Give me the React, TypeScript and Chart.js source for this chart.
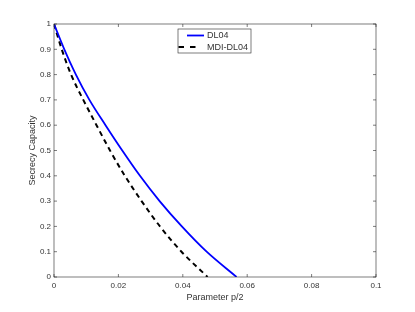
import React, { useEffect, useRef } from "react";
import { Chart, registerables } from "chart.js";

Chart.register(...registerables);

const dl04X = [0, 0.0032, 0.0068, 0.0110, 0.0160, 0.0212, 0.0267, 0.0328, 0.0397, 0.0474, 0.0567];
const dl04Y = [1, 0.9, 0.8, 0.7, 0.6, 0.5, 0.4, 0.3, 0.2, 0.1, 0];
const mdiX = [0, 0.0024, 0.0053, 0.0091, 0.0132, 0.0174, 0.0220, 0.0272, 0.0329, 0.0396, 0.0477];
const mdiY = [1, 0.9, 0.8, 0.7, 0.6, 0.5, 0.4, 0.3, 0.2, 0.1, 0];

const xTicks = [0, 0.02, 0.04, 0.06, 0.08, 0.1];
const xTickLabels = ["0", "0.02", "0.04", "0.06", "0.08", "0.1"];
const yTicks = [0, 0.1, 0.2, 0.3, 0.4, 0.5, 0.6, 0.7, 0.8, 0.9, 1];
const yTickLabels = ["0", "0.1", "0.2", "0.3", "0.4", "0.5", "0.6", "0.7", "0.8", "0.9", "1"];

const seriesLabels = ["DL04", "MDI-DL04"];
const xTitle = "Parameter p/2";
const yTitle = "Secrecy Capacity";

const TEXT = "#333333";
const FONT = "'Liberation Sans', Arial, Helvetica, sans-serif";

const boxPlugin = {
  id: "boxPlugin",
  afterDraw(chart: any) {
    const { ctx, chartArea } = chart;
    const { left, right, top, bottom } = chartArea;
    const xs = chart.scales.x;
    const ys = chart.scales.y;
    ctx.save();
    ctx.strokeStyle = "#262626";
    ctx.lineWidth = 0.6;
    ctx.strokeRect(left, top, right - left, bottom - top);
    const tl = 3;
    ctx.beginPath();
    xTicks.forEach((v) => {
      const px = xs.getPixelForValue(v);
      ctx.moveTo(px, bottom);
      ctx.lineTo(px, bottom - tl);
      ctx.moveTo(px, top);
      ctx.lineTo(px, top + tl);
    });
    yTicks.forEach((v) => {
      const py = ys.getPixelForValue(v);
      ctx.moveTo(left, py);
      ctx.lineTo(left + tl, py);
      ctx.moveTo(right, py);
      ctx.lineTo(right - tl, py);
    });
    ctx.stroke();

    // legend
    const lx = 178, ly = 29, lw = 73, lh = 24;
    ctx.fillStyle = "#ffffff";
    ctx.fillRect(lx, ly, lw, lh);
    ctx.strokeStyle = "#262626";
    ctx.lineWidth = 0.6;
    ctx.strokeRect(lx, ly, lw, lh);
    const ds = chart.data.datasets;
    const rows = [ly + 6.5, ly + 18];
    ds.forEach((d: any, i: number) => {
      const y = rows[i];
      ctx.save();
      ctx.strokeStyle = d.borderColor;
      ctx.lineWidth = d.borderWidth;
      ctx.beginPath();
      if (d.borderDash && d.borderDash.length) {
        ctx.setLineDash([5.5, 6]);
        ctx.moveTo(lx + 0.5, y);
        ctx.lineTo(lx + 18, y);
      } else {
        ctx.moveTo(lx + 9, y);
        ctx.lineTo(lx + 26, y);
      }
      ctx.stroke();
      ctx.restore();
      ctx.fillStyle = TEXT;
      ctx.font = `9px ${FONT}`;
      ctx.textBaseline = "middle";
      ctx.textAlign = "left";
      ctx.fillText(d.label, lx + 29, y + 0.5);
    });
    ctx.restore();
  },
};

export default function App() {
  const ref = useRef<HTMLCanvasElement | null>(null);
  useEffect(() => {
    if (!ref.current) return;
    const chart = new Chart(ref.current, {
      type: "scatter",
      data: {
        datasets: [
          {
            label: seriesLabels[0],
            data: dl04X.map((x, i) => ({ x, y: dl04Y[i] })),
            showLine: true,
            borderColor: "#0000ff",
            backgroundColor: "#0000ff",
            borderWidth: 1.8,
            pointRadius: 0,
            cubicInterpolationMode: "monotone",
          },
          {
            label: seriesLabels[1],
            data: mdiX.map((x, i) => ({ x, y: mdiY[i] })),
            showLine: true,
            borderColor: "#000000",
            backgroundColor: "#000000",
            borderWidth: 2,
            borderDash: [5, 4],
            pointRadius: 0,
            cubicInterpolationMode: "monotone",
          },
        ],
      },
      options: {
        responsive: false,
        animation: false,
        layout: { padding: { left: 0, right: 39, top: 24, bottom: 0 } },
        plugins: { legend: { display: false }, tooltip: { enabled: false } },
        scales: {
          x: {
            type: "linear",
            min: 0,
            max: 0.1,
            afterBuildTicks: (s: any) => {
              s.ticks = xTicks.map((v) => ({ value: v }));
            },
            afterFit: (s: any) => {
              s.height = 35;
            },
            grid: { display: false, drawTicks: false },
            border: { display: false },
            ticks: {
              padding: 4,
              color: TEXT,
              font: { size: 8, family: FONT },
              maxRotation: 0,
              callback: (v: any) => {
                const i = xTicks.findIndex((t) => Math.abs(t - v) < 1e-9);
                return i >= 0 ? xTickLabels[i] : "";
              },
            },
            title: {
              display: true,
              text: xTitle,
              color: TEXT,
              font: { size: 9, family: FONT },
              padding: { top: 0, bottom: 9 },
            },
          },
          y: {
            type: "linear",
            min: 0,
            max: 1,
            afterBuildTicks: (s: any) => {
              s.ticks = yTicks.map((v) => ({ value: v }));
            },
            afterFit: (s: any) => {
              s.width = 54;
            },
            grid: { display: false, drawTicks: false },
            border: { display: false },
            ticks: {
              padding: 3,
              color: TEXT,
              font: { size: 8, family: FONT },
              callback: (v: any) => {
                const i = yTicks.findIndex((t) => Math.abs(t - v) < 1e-9);
                return i >= 0 ? yTickLabels[i] : "";
              },
            },
            title: {
              display: true,
              text: yTitle,
              color: TEXT,
              font: { size: 9, family: FONT },
              padding: { top: 27, bottom: 0 },
            },
          },
        },
      },
      plugins: [boxPlugin],
    } as any);
    return () => chart.destroy();
  }, []);
  return (
    <div style={{ position: "absolute", left: 0, top: 0, width: 415, height: 312, background: "#fff" }}>
      <canvas ref={ref} width={415} height={312} style={{ display: "block" }} />
    </div>
  );
}
